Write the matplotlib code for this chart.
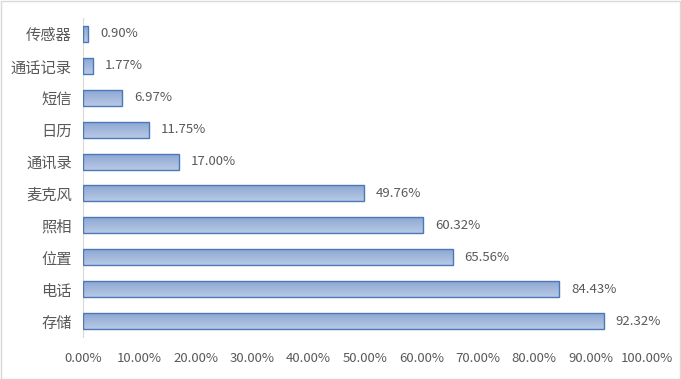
import matplotlib
matplotlib.use("Agg")
import matplotlib.pyplot as plt
import numpy as np
from matplotlib.patches import Rectangle
from matplotlib.colors import LinearSegmentedColormap
from matplotlib.ticker import FuncFormatter, MultipleLocator

categories = ["传感器", "通话记录", "短信", "日历", "通讯录", "麦克风", "照相", "位置", "电话", "存储"]
values = [0.90, 1.77, 6.97, 11.75, 17.00, 49.76, 60.32, 65.56, 84.43, 92.32]

plt.rcParams['font.family'] = ['Noto Sans CJK SC', 'DejaVu Sans']

fig = plt.figure(figsize=(6.81, 3.79), dpi=100)
ax = fig.add_axes([83/681, 1-337/379, (647-83)/681, (337-18)/379])

y = np.arange(len(categories))[::-1]
bars = ax.barh(y, values, height=0.5, color='none', edgecolor='#4A78B8', linewidth=1.0, zorder=3)

cmap = LinearSegmentedColormap.from_list('g', ['#B7C8E4', '#A3B8DC', '#8EA7D2'])
grad = np.linspace(0, 1, 64).reshape(-1, 1)
for b in bars:
    x0, y0 = b.get_x(), b.get_y()
    w, h = b.get_width(), b.get_height()
    im = ax.imshow(grad, cmap=cmap, aspect='auto', extent=[x0, x0 + w, y0 + h, y0],
                   origin='upper', zorder=2)
    im.set_clip_path(b)

for yi, v in zip(y, values):
    ax.text(v + 2.1, yi, f"{v:.2f}%", va='center', ha='left', fontsize=9.5, color='#595959')

ax.set_xlim(0, 100)
ax.set_ylim(-0.5, len(categories) - 0.5)
ax.set_yticks(y)
ax.set_yticklabels(categories, fontsize=11, color='#595959')
ax.xaxis.set_major_locator(MultipleLocator(10))
ax.xaxis.set_major_formatter(FuncFormatter(lambda v, p: f"{v:.2f}%"))
for lab in ax.get_xticklabels():
    lab.set_fontsize(9.5)
    lab.set_color('#595959')
ax.tick_params(axis='both', length=0)
ax.tick_params(axis='x', pad=11)
ax.tick_params(axis='y', pad=8)
for s in ['top', 'right', 'bottom']:
    ax.spines[s].set_visible(False)
ax.spines['left'].set_color('#D9D9D9')
ax.set_facecolor('none')

fig.patches.append(Rectangle((0.5/681, 0.5/379), 1 - 1.5/681, 1 - 1.5/379, transform=fig.transFigure,
                             fill=False, edgecolor='#D9D9D9', linewidth=1))

fig.savefig('out.png', dpi=100)
